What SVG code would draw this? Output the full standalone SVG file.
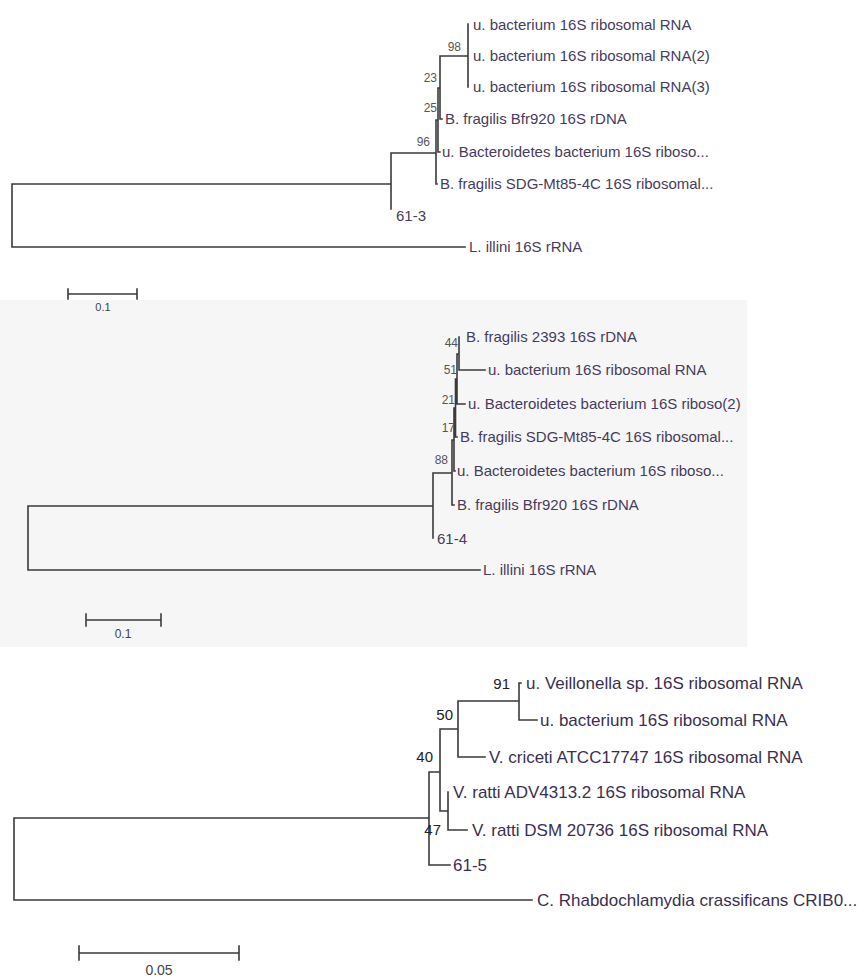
<svg xmlns="http://www.w3.org/2000/svg" width="857" height="978" viewBox="0 0 857 978">
<style>
.br{fill:none;stroke:#3a3a3a;stroke-width:1.6;stroke-linecap:square}
.lf{font-family:"Liberation Sans",Arial,sans-serif;font-size:15px;fill:#463c5c}
.lf3{font-family:"Liberation Sans",Arial,sans-serif;font-size:17px;fill:#3b2f4f}
.bs{font-family:"Liberation Sans",Arial,sans-serif;font-size:12px;fill:#555;text-anchor:end}
.bs3{font-family:"Liberation Sans",Arial,sans-serif;font-size:15px;fill:#222;text-anchor:end}
.sc{font-family:"Liberation Sans",Arial,sans-serif;fill:#444;text-anchor:middle}
</style>
<rect width="857" height="978" fill="#ffffff"/>
<rect x="0" y="300" width="747" height="347" fill="#f6f6f6"/>

<g id="connectors">
  <!-- Tree 1 -->
  <path class="br" d="M12,184 V247 M12,184 H391 M12,247 H465
    M391,153 V209 M391,153 H436
    M436,120 V184 M436,184 H437
    M436,120 H438 M438,88 V152 M438,152 H440
    M438,88 H440 M440,56 V119 M440,119 H442
    M440,56 H468 M468,24 V87"/>
  <!-- Tree 2 -->
  <path class="br" d="M28,506 V570 M28,506 H433 M28,570 H480
    M433,473 V538 M433,473 H452
    M452,440 V505 M452,505 H454
    M452,440 H454 M454,408 V471 M454,471 H455
    M454,408 H455.5 M455.5,379 V437 M455.5,437 H457
    M455.5,379 H457 M457,354 V404 M457,404 H465
    M457,354 H459 M459,337 V370 M459,370 H485"/>
  <!-- Tree 3 -->
  <path class="br" d="M14,818 V900 M14,818 H429 M14,900 H532
    M429,772 V865 M429,865 H450 M429,772 H440
    M440,729 V811 M440,729 H458 M440,811 H448
    M458,701 V757 M458,757 H485 M458,701 H519
    M519,683 V720 M519,683 H521 M519,720 H537
    M448,792 V830 M448,830 H467"/>
</g>

<g id="tree1">
  <g id="t1-leaf1"><text class="lf" x="473" y="30">u. bacterium 16S ribosomal RNA</text></g>
  <g id="t1-leaf2"><text class="lf" x="473" y="61">u. bacterium 16S ribosomal RNA(2)</text></g>
  <g id="t1-leaf3"><text class="lf" x="473" y="92">u. bacterium 16S ribosomal RNA(3)</text></g>
  <g id="t1-leaf4"><text class="lf" x="445" y="124">B. fragilis Bfr920 16S rDNA</text></g>
  <g id="t1-leaf5"><text class="lf" x="442" y="157">u. Bacteroidetes bacterium 16S riboso...</text></g>
  <g id="t1-leaf6"><text class="lf" x="440" y="189">B. fragilis SDG-Mt85-4C 16S ribosomal...</text></g>
  <g id="t1-leaf7"><text class="lf" x="396" y="221">61-3</text></g>
  <g id="t1-leaf8"><text class="lf" x="469" y="252">L. illini 16S rRNA</text></g>
  <g id="t1-boot">
    <text class="bs" x="461" y="51">98</text>
    <text class="bs" x="437" y="82">23</text>
    <text class="bs" x="437" y="112">25</text>
    <text class="bs" x="430" y="146">96</text>
  </g>
  <g id="t1-scale">
    <path class="br" d="M68,294 H137 M68,289 V299 M137,289 V299"/>
    <text class="sc" x="103" y="311" font-size="11">0.1</text>
  </g>
</g>

<g id="tree2">
  <g id="t2-leaf1"><text class="lf" x="466" y="342">B. fragilis 2393 16S rDNA</text></g>
  <g id="t2-leaf2"><text class="lf" x="488" y="375">u. bacterium 16S ribosomal RNA</text></g>
  <g id="t2-leaf3"><text class="lf" x="468" y="409">u. Bacteroidetes bacterium 16S riboso(2)</text></g>
  <g id="t2-leaf4"><text class="lf" x="460" y="442">B. fragilis SDG-Mt85-4C 16S ribosomal...</text></g>
  <g id="t2-leaf5"><text class="lf" x="457" y="476">u. Bacteroidetes bacterium 16S riboso...</text></g>
  <g id="t2-leaf6"><text class="lf" x="457" y="510">B. fragilis Bfr920 16S rDNA</text></g>
  <g id="t2-leaf7"><text class="lf" x="437" y="544">61-4</text></g>
  <g id="t2-leaf8"><text class="lf" x="483" y="575">L. illini 16S rRNA</text></g>
  <g id="t2-boot">
    <text class="bs" x="458" y="347">44</text>
    <text class="bs" x="457" y="374">51</text>
    <text class="bs" x="455" y="404">21</text>
    <text class="bs" x="455" y="432">17</text>
    <text class="bs" x="448" y="464">88</text>
  </g>
  <g id="t2-scale">
    <path class="br" d="M86,620 H161 M86,614 V626 M161,614 V626"/>
    <text class="sc" x="123" y="638" font-size="12">0.1</text>
  </g>
</g>

<g id="tree3">
  <g id="t3-leaf1"><text class="lf3" x="526" y="689">u. Veillonella sp. 16S ribosomal RNA</text></g>
  <g id="t3-leaf2"><text class="lf3" x="540" y="726">u. bacterium 16S ribosomal RNA</text></g>
  <g id="t3-leaf3"><text class="lf3" x="489" y="763">V. criceti ATCC17747 16S ribosomal RNA</text></g>
  <g id="t3-leaf4"><text class="lf3" x="453" y="798">V. ratti ADV4313.2 16S ribosomal RNA</text></g>
  <g id="t3-leaf5"><text class="lf3" x="472" y="836">V. ratti DSM 20736 16S ribosomal RNA</text></g>
  <g id="t3-leaf6"><text class="lf3" x="453" y="871">61-5</text></g>
  <g id="t3-leaf7"><text class="lf3" x="537" y="906">C. Rhabdochlamydia crassificans CRIB0...</text></g>
  <g id="t3-boot">
    <text class="bs3" x="510" y="689">91</text>
    <text class="bs3" x="453" y="720">50</text>
    <text class="bs3" x="433" y="762">40</text>
    <text class="bs3" x="441" y="835">47</text>
  </g>
  <g id="t3-scale">
    <path class="br" d="M79,953 H239 M79,946 V960 M239,946 V960"/>
    <text class="sc" x="159" y="975" font-size="14">0.05</text>
  </g>
</g>
</svg>
